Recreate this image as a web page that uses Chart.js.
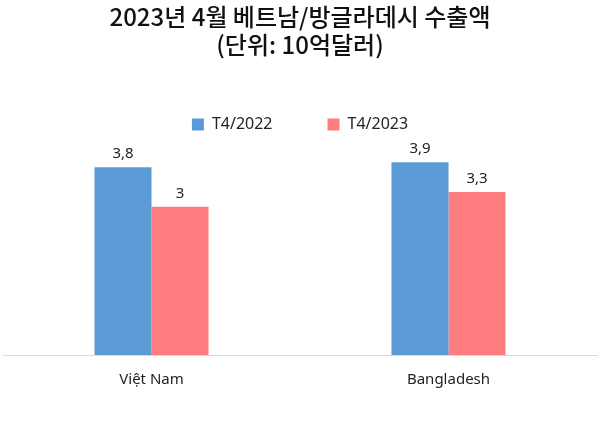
<!DOCTYPE html>
<html>
<head>
<meta charset="utf-8">
<script src="https://cdn.jsdelivr.net/npm/chart.js@4"></script>
<style>
  body { margin: 0; background: #fff; }
  #wrap { width: 600px; height: 422px; }
</style>
</head>
<body>
<div id="wrap"><canvas id="chart"></canvas></div>
<script>
// ----- DATA ----- //
const categories = ['Việt Nam', 'Bangladesh'];
const series_names = ['T4/2022', 'T4/2023'];
const values_2022 = [3.8, 3.9];
const values_2023 = [3.0, 3.3];
const value_labels_2022 = ['3,8', '3,9'];
const value_labels_2023 = ['3', '3,3'];

// Labels above bars
const barLabels = {
  id: 'barLabels',
  afterDatasetsDraw(chart) {
    const ctx = chart.ctx;
    ctx.save();
    ctx.font = '15px "Noto Sans", sans-serif';
    ctx.fillStyle = '#222';
    ctx.textAlign = 'center';
    ctx.textBaseline = 'bottom';
    chart.data.datasets.forEach((ds, i) => {
      chart.getDatasetMeta(i).data.forEach((bar, j) => {
        ctx.fillText(ds.labelsText[j], bar.x, bar.y - 6);
      });
    });
    ctx.restore();
  }
};

new Chart(document.getElementById('chart').getContext('2d'), {
  type: 'bar',
  data: {
    labels: categories,
    datasets: [
      { label: series_names[0], data: values_2022, labelsText: value_labels_2022, backgroundColor: '#5B9BD5' },
      { label: series_names[1], data: values_2023, labelsText: value_labels_2023, backgroundColor: '#FF7C80' }
    ]
  },
  options: {
    responsive: true,
    maintainAspectRatio: false,
    animation: false,
    layout: { padding: { left: 3, right: 3, bottom: 25 } },
    plugins: {
      title: {
        display: true,
        text: ['2023년 4월 베트남/방글라데시 수출액', '(단위: 10억달러)'],
        font: { family: '"Noto Sans CJK KR", sans-serif', size: 24, weight: '500' },
        color: '#111',
        lineHeight: 1.05,
        padding: { top: 2, bottom: 2 }
      },
      legend: {
        labels: {
          font: { family: '"Noto Sans", sans-serif', size: 16 },
          color: '#222',
          boxWidth: 12, boxHeight: 12,
          padding: 55
        }
      },
      tooltip: { enabled: false }
    },
    datasets: { bar: { categoryPercentage: 0.384, barPercentage: 1 } },
    scales: {
      x: {
        grid: { display: false },
        border: { color: '#d9d9d9' },
        ticks: { font: { family: '"Noto Sans", sans-serif', size: 15 }, color: '#222', padding: 8 }
      },
      y: {
        display: false,
        min: 0, max: 4.3
      }
    }
  },
  plugins: [barLabels]
});
</script>
</body>
</html>
